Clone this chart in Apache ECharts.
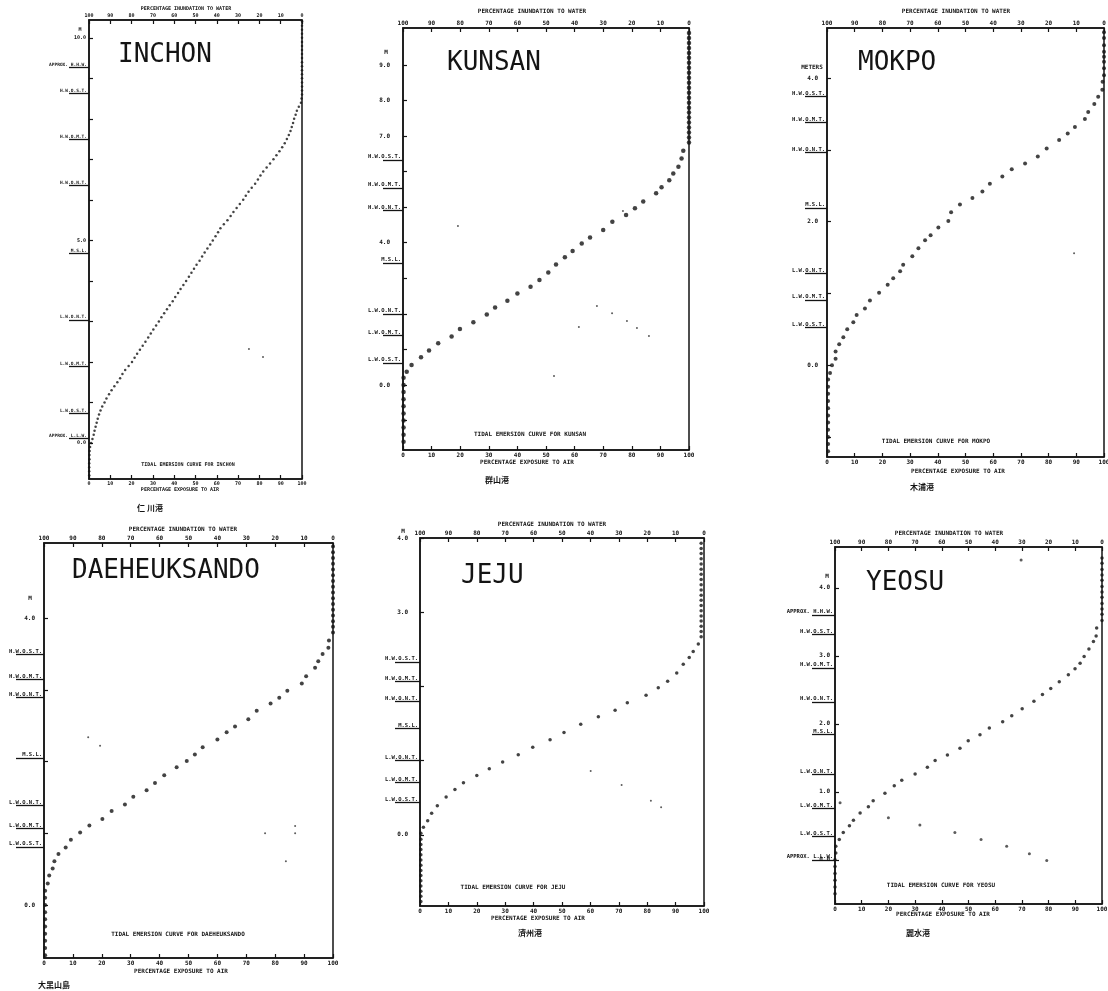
<!DOCTYPE html>
<html>
<head>
    <meta charset="utf-8">
    <title>Tidal emersion curves</title>
    <script src="https://cdn.jsdelivr.net/npm/echarts@6.0.0/dist/echarts.min.js"></script>
    <style>
        html, body { margin: 0; padding: 0; background: #fff; }
        #main { width: 1108px; height: 991px; }
    </style>
</head>
<body>
    <div id="main"></div>
    <script>
        // station names and captions
        const stations = ['INCHON', 'KUNSAN', 'MOKPO', 'DAEHEUKSANDO', 'JEJU', 'YEOSU'];
        const hanja = ['仁 川港', '群山港', '木浦港', '大黑山島', '濟州港', '麗水港'];
        const topTitle = 'PERCENTAGE INUNDATION TO WATER';
        const bottomTitle = 'PERCENTAGE EXPOSURE TO AIR';
        const unitNames = ['M', 'M', 'METERS', 'M', 'M', 'M'];

        // emersion curves: [percentage exposure to air, height in metres]
        const inchonCurve = [
            [100,10.4],[100,10.3],[100,10.2],[100,10.1],[100,10.0],[100,9.9],[100,9.8],[100,9.7],[100,9.6],[100,9.5],
            [100,9.4],[100,9.3],[100,9.2],[100,9.1],[100,9.0],[100,8.9],[100,8.8],[100,8.7],[100,8.6],[99.8,8.5],
            [99.5,8.4],[98.5,8.3],[97.6,8.2],[97.0,8.1],[96.3,8.0],[95.8,7.9],[95.2,7.8],[94.6,7.7],[93.8,7.6],[92.9,7.5],
            [91.9,7.4],[90.7,7.3],[89.4,7.2],[88.0,7.1],[86.6,7.0],[85.0,6.9],[83.4,6.8],[81.8,6.7],[80.5,6.6],[79.3,6.5],
            [78.0,6.4],[76.4,6.3],[74.9,6.2],[73.6,6.1],[72.4,6.0],[70.8,5.9],[69.3,5.8],[67.8,5.7],[66.5,5.6],[65.0,5.5],
            [63.3,5.4],[61.7,5.3],[60.6,5.2],[59.4,5.1],[58.1,5.0],[56.9,4.9],[55.6,4.8],[54.3,4.7],[53.1,4.6],[51.9,4.5],
            [50.5,4.4],[49.3,4.3],[48.1,4.2],[46.9,4.1],[45.6,4.0],[44.3,3.9],[43.0,3.8],[41.8,3.7],[40.5,3.6],[39.3,3.5],
            [37.9,3.4],[36.6,3.3],[35.3,3.2],[34.0,3.1],[32.8,3.0],[31.5,2.9],[30.2,2.8],[29.0,2.7],[27.8,2.6],[26.5,2.5],
            [25.2,2.4],[23.9,2.3],[22.6,2.2],[21.4,2.1],[20.2,2.0],[18.6,1.9],[17.0,1.8],[15.7,1.7],[14.6,1.6],[13.3,1.5],
            [11.9,1.4],[10.6,1.3],[9.4,1.2],[8.2,1.1],[7.3,1.0],[6.2,0.9],[5.4,0.8],[4.7,0.7],[4.1,0.6],[3.6,0.5],
            [3.1,0.4],[2.6,0.3],[2.2,0.2],[1.6,0.1],[1.0,0.0],[0.5,-0.1],[0.3,-0.2],[0.2,-0.3],[0.2,-0.4],[0.1,-0.5],
            [0.1,-0.6],[0.1,-0.7],[0.1,-0.8]
        ];
        const kunsanCurve = [
            [100,9.9],[100,9.76],[100,9.62],[100,9.48],[100,9.34],[100,9.2],[100,9.06],[100,8.92],[100,8.78],[100,8.64],
            [100,8.5],[100,8.36],[100,8.22],[100,8.08],[100,7.94],[100,7.8],[100,7.66],[100,7.52],[100,7.38],[100,7.24],
            [100,7.1],[100,6.96],[100,6.82],
            [98.0,6.59],[97.4,6.37],[96.3,6.14],[94.5,5.95],[93.1,5.76],[90.4,5.56],[88.5,5.39],[84.0,5.16],[81.1,4.97],
            [78.0,4.78],[73.2,4.59],[70.0,4.36],[65.4,4.15],[62.5,3.98],[59.3,3.77],[56.6,3.59],[53.5,3.39],[50.8,3.16],
            [47.7,2.95],[44.6,2.76],[40.0,2.57],[36.5,2.37],[32.2,2.18],[29.3,1.98],[24.6,1.76],[19.9,1.57],[17.0,1.36],
            [12.3,1.17],[9.1,0.97],[6.3,0.78],[3.0,0.56],[1.3,0.37],
            [0.2,0.2],[0.2,0.0],[0.2,-0.2],[0.2,-0.4],[0.2,-0.6],[0.2,-0.8],[0.2,-1.0],[0.2,-1.2],[0.2,-1.4],[0.2,-1.6]
        ];
        const mokpoCurve = [
            [100,4.64],[100,4.56],[100,4.46],[100,4.37],[100,4.30],[100,4.23],[100,4.14],[100,4.04],
            [99.5,3.95],[99.4,3.84],[97.9,3.74],[96.5,3.64],[94.3,3.53],[93.1,3.43],[89.5,3.32],[86.9,3.23],[83.8,3.14],
            [79.3,3.02],[76.1,2.91],[71.5,2.81],[66.7,2.73],[63.3,2.63],[58.8,2.53],[56.1,2.42],[52.5,2.33],[48.0,2.24],
            [44.8,2.13],[43.8,2.01],[40.2,1.92],[37.4,1.81],[35.4,1.74],[33.0,1.63],[30.8,1.52],[27.5,1.40],[26.4,1.31],
            [23.9,1.21],[21.9,1.12],[18.8,1.01],[15.5,0.90],[13.7,0.79],[10.7,0.70],[9.5,0.60],[7.3,0.50],[5.9,0.39],
            [4.4,0.29],[3.1,0.19],[3.1,0.09],[1.8,0.0],[1.1,-0.11],
            [0.4,-0.2],[0.4,-0.3],[0.4,-0.4],[0.4,-0.5],[0.4,-0.6],[0.4,-0.7],[0.4,-0.8],[0.4,-0.9],[0.4,-1.0],[0.4,-1.1],[0.4,-1.2]
        ];
        const daeheuksandoCurve = [
            [100,5.0],[100,4.92],[100,4.84],[100,4.76],[100,4.68],[100,4.6],[100,4.52],[100,4.44],[100,4.36],[100,4.28],
            [100,4.2],[100,4.12],[100,4.04],[100,3.96],[100,3.88],[100,3.8],
            [98.6,3.69],[98.4,3.59],[96.4,3.50],[94.9,3.40],[93.8,3.31],[90.7,3.19],[89.2,3.09],[84.2,2.99],[81.4,2.89],
            [78.4,2.81],[73.6,2.71],[70.7,2.59],[66.1,2.49],[63.2,2.41],[60.0,2.31],[54.9,2.20],[52.2,2.10],[49.4,2.01],
            [45.9,1.92],[41.6,1.81],[38.4,1.70],[35.5,1.60],[30.9,1.51],[28.0,1.40],[23.4,1.31],[20.2,1.20],[15.7,1.11],
            [12.5,1.01],[9.3,0.91],[7.5,0.80],[5.0,0.71],[3.6,0.61],[3.0,0.51],[1.8,0.41],[1.3,0.30],
            [0.4,0.2],[0.4,0.1],[0.4,0.0],[0.4,-0.1],[0.4,-0.2],[0.4,-0.3],[0.4,-0.4],[0.4,-0.5],[0.4,-0.6],[0.4,-0.7]
        ];
        const jejuCurve = [
            [99,3.93],[99,3.86],[99,3.79],[99,3.72],[99,3.65],[99,3.58],[99,3.51],[99,3.44],[99,3.37],[99,3.30],
            [99,3.23],[99,3.16],[99,3.09],[99,3.02],[99,2.95],[99,2.88],[99,2.81],[99,2.74],[99,2.67],
            [98.0,2.57],[96.2,2.47],[94.8,2.39],[92.7,2.30],[90.4,2.18],[87.2,2.07],[83.9,1.98],[79.6,1.88],[73.0,1.78],
            [68.7,1.68],[62.8,1.59],[56.6,1.49],[50.7,1.38],[45.8,1.28],[39.7,1.18],[34.6,1.08],[29.1,0.98],[24.4,0.89],
            [20.0,0.80],[15.3,0.70],[12.3,0.61],[9.2,0.51],[6.1,0.39],[4.1,0.29],[2.7,0.19],[1.2,0.10],
            [0.3,0.02],[0.3,-0.06],[0.3,-0.13],[0.3,-0.2],[0.3,-0.27],[0.3,-0.34],[0.3,-0.41],[0.3,-0.48],[0.3,-0.55],
            [0.3,-0.62],[0.3,-0.69],[0.3,-0.76],[0.3,-0.83],[0.3,-0.9]
        ];
        const yeosuCurve = [
            [100,4.44],[100,4.36],[100,4.27],[100,4.19],[100,4.11],[100,4.02],[100,3.94],[100,3.86],[100,3.77],[100,3.69],
            [100,3.61],[100,3.52],
            [98.0,3.41],[97.8,3.29],[96.8,3.21],[95.1,3.10],[93.3,2.99],[91.8,2.89],[89.9,2.81],[87.4,2.72],[84.0,2.62],
            [80.8,2.52],[77.7,2.43],[74.5,2.33],[70.1,2.22],[66.2,2.12],[62.8,2.03],[57.8,1.94],[54.3,1.84],[49.9,1.75],
            [46.8,1.64],[42.1,1.54],[37.5,1.46],[34.6,1.36],[30.0,1.26],[25.0,1.17],[22.2,1.09],[18.7,0.98],[14.3,0.87],
            [12.5,0.78],[9.4,0.69],[6.9,0.58],[5.4,0.50],[3.1,0.40],[1.6,0.30],[0.3,0.20],[0.3,0.10],
            [0,0.0],[0,-0.1],[0,-0.2],[0,-0.3],[0,-0.4],[0,-0.5]
        ];

        // faint specks that show through the scan
        const inchonSpecks = [[75.1,2.32],[81.7,2.12]];
        const kunsanSpecks = [[19.2,4.47],[76.9,4.89],[61.5,1.63],[67.8,2.22],[73.1,2.02],[78.3,1.80],[81.8,1.60],[86.0,1.38],[52.8,0.25]];
        const mokpoSpecks = [[89.2,1.56]];
        const daeheuksandoSpecks = [[15.3,2.34],[19.4,2.22],[76.5,1.0],[86.9,1.1],[86.9,1.0],[83.7,0.61]];
        const jejuSpecks = [[60.1,0.86],[71.0,0.67],[81.3,0.46],[84.9,0.37]];
        const yeosuSpecks = [[20.0,0.62],[31.8,0.51],[44.9,0.40],[54.7,0.30],[64.3,0.20],[72.8,0.09],[79.3,-0.01],[69.7,4.41],[1.9,0.84]];

        // tidal datum names and levels (m)
        const datumNames = ['H.W.O.S.T.', 'H.W.O.M.T.', 'H.W.O.N.T.', 'M.S.L.', 'L.W.O.N.T.', 'L.W.O.M.T.', 'L.W.O.S.T.'];
        const datumNamesApprox = ['APPROX. H.H.W.', 'H.W.O.S.T.', 'H.W.O.M.T.', 'H.W.O.N.T.', 'M.S.L.', 'L.W.O.N.T.', 'L.W.O.M.T.', 'L.W.O.S.T.', 'APPROX. L.L.W.'];
        const inchonDatums = [9.28, 8.62, 7.5, 6.37, 4.69, 3.04, 1.9, 0.74, 0.12];
        const kunsanDatums = [6.33, 5.54, 4.9, 3.43, 2.0, 1.4, 0.62];
        const mokpoDatums = [3.75, 3.38, 2.97, 2.19, 1.28, 0.91, 0.53];
        const daeheuksandoDatums = [3.5, 3.15, 2.9, 2.05, 1.39, 1.07, 0.81];
        const jejuDatums = [2.33, 2.07, 1.8, 1.43, 1.0, 0.71, 0.44];
        const yeosuDatums = [3.6, 3.31, 2.82, 2.32, 1.84, 1.26, 0.76, 0.34, 0.0];

        // height axis ticks and labelled ticks
        const inchonTicks = [0, 1, 2, 3, 4, 5, 6, 7, 8, 9, 10];
        const inchonLabels = [0, 5, 10];
        const kunsanTicks = [-1, 0, 1, 2, 3, 4, 5, 6, 7, 8, 9];
        const kunsanLabels = [0, 4, 7, 8, 9];
        const mokpoTicks = [-1, 0, 1, 2, 3, 4];
        const mokpoLabels = [0, 2, 4];
        const daeheuksandoTicks = [0, 1, 2, 3, 4];
        const daeheuksandoLabels = [0, 4];
        const jejuTicks = [0, 1, 2, 3, 4];
        const jejuLabels = [0, 3, 4];
        const yeosuTicks = [0, 1, 2, 3, 4];
        const yeosuLabels = [0, 1, 2, 3, 4];

        const panels = [
            { curve: inchonCurve, specks: inchonSpecks, names: datumNamesApprox, levels: inchonDatums, ticks: inchonTicks, labels: inchonLabels },
            { curve: kunsanCurve, specks: kunsanSpecks, names: datumNames, levels: kunsanDatums, ticks: kunsanTicks, labels: kunsanLabels },
            { curve: mokpoCurve, specks: mokpoSpecks, names: datumNames, levels: mokpoDatums, ticks: mokpoTicks, labels: mokpoLabels },
            { curve: daeheuksandoCurve, specks: daeheuksandoSpecks, names: datumNames, levels: daeheuksandoDatums, ticks: daeheuksandoTicks, labels: daeheuksandoLabels },
            { curve: jejuCurve, specks: jejuSpecks, names: datumNames, levels: jejuDatums, ticks: jejuTicks, labels: jejuLabels },
            { curve: yeosuCurve, specks: yeosuSpecks, names: datumNamesApprox, levels: yeosuDatums, ticks: yeosuTicks, labels: yeosuLabels }
        ];

        // panel placement on the page (pixels), kept apart from the data
        const layout = [
            { left: 89, top: 20, width: 213, height: 459, yMin: -0.89, yMax: 10.44, dot: 2.5, fs: 5, yGap: 3, datumLen: 20,
              namePos: [118, 55], topPos: [186, 9], bottomPos: [180, 490], curvePos: [188, 465], hanjaPos: [150, 508], unitPos: [80, 30] },
            { left: 403, top: 28, width: 286, height: 422, yMin: -1.83, yMax: 10.04, dot: 4.5, fs: 6, yGap: 13, datumLen: 20,
              namePos: [447, 63], topPos: [532, 11], bottomPos: [527, 462], curvePos: [530, 434], hanjaPos: [497, 480], unitPos: [386, 52] },
            { left: 827, top: 28, width: 277, height: 429, yMin: -1.28, yMax: 4.70, dot: 4, fs: 6, yGap: 9, datumLen: 22,
              namePos: [858, 63], topPos: [956, 11], bottomPos: [958, 471], curvePos: [936, 441], hanjaPos: [922, 487], unitPos: [812, 67] },
            { left: 44, top: 543, width: 289, height: 415, yMin: -0.74, yMax: 5.05, dot: 4, fs: 6, yGap: 9, datumLen: 28,
              namePos: [72, 571], topPos: [183, 529], bottomPos: [181, 971], curvePos: [178, 934], hanjaPos: [54, 985], unitPos: [30, 598] },
            { left: 420, top: 538, width: 284, height: 368, yMin: -0.96, yMax: 4.0, dot: 3.5, fs: 6, yGap: 12, datumLen: 25,
              namePos: [461, 576], topPos: [552, 524], bottomPos: [538, 918], curvePos: [513, 887], hanjaPos: [530, 933], unitPos: [403, 531] },
            { left: 835, top: 547, width: 267, height: 357, yMin: -0.65, yMax: 4.6, dot: 3.5, fs: 6, yGap: 5, datumLen: 23,
              namePos: [866, 583], topPos: [949, 533], bottomPos: [943, 914], curvePos: [941, 885], hanjaPos: [918, 933], unitPos: [827, 576] }
        ];

        const ink = '#141414';
        const mono = '"DejaVu Sans Mono", monospace';
        const cjk = '"Noto Sans CJK KR", "Noto Sans CJK TC", sans-serif';

        const grid = [], xAxis = [], yAxis = [], series = [], graphic = [];

        panels.forEach((p, i) => {
            const L = layout[i];
            const smallText = { color: ink, fontSize: L.fs, fontFamily: mono, fontWeight: 'bold' };

            grid.push({
                left: L.left, top: L.top, width: L.width, height: L.height,
                containLabel: false, outerBoundsMode: 'none',
                show: true, borderColor: ink, borderWidth: 1.5, backgroundColor: 'transparent'
            });

            // bottom: exposure to air, top: inundation to water
            xAxis.push({
                gridIndex: i, type: 'value', position: 'bottom', min: 0, max: 100, interval: 10,
                axisLine: { onZero: false, lineStyle: { color: ink, width: 1.5 } },
                axisTick: { inside: true, length: 4, lineStyle: { color: ink, width: 1.2 } },
                axisLabel: Object.assign({ margin: 2 }, smallText),
                splitLine: { show: false }
            });
            xAxis.push({
                gridIndex: i, type: 'value', position: 'top', inverse: true, min: 0, max: 100, interval: 10,
                axisLine: { onZero: false, lineStyle: { color: ink, width: 1.5 } },
                axisTick: { inside: true, length: 4, lineStyle: { color: ink, width: 1.2 } },
                axisLabel: Object.assign({ margin: 2 }, smallText),
                splitLine: { show: false }
            });

            // height in metres
            yAxis.push({
                gridIndex: i, type: 'value', position: 'left', min: L.yMin, max: L.yMax,
                axisLine: { show: true, onZero: false, lineStyle: { color: ink, width: 1.5 } },
                axisTick: { show: true, inside: true, length: 4, customValues: p.ticks, lineStyle: { color: ink, width: 1.2 } },
                axisLabel: Object.assign({ customValues: p.labels, margin: L.yGap, formatter: v => Number(v).toFixed(1) }, smallText),
                splitLine: { show: false }
            });
            // tidal datums drawn as underlined labels left of the axis
            yAxis.push({
                gridIndex: i, type: 'value', position: 'left', min: L.yMin, max: L.yMax,
                axisLine: { show: false, onZero: false },
                axisTick: { show: true, inside: false, length: L.datumLen, customValues: p.levels, lineStyle: { color: ink, width: 1.3 } },
                axisLabel: Object.assign({
                    customValues: p.levels, margin: 2, verticalAlign: 'bottom', align: 'right',
                    formatter: v => {
                        const k = p.levels.findIndex(l => Math.abs(l - v) < 1e-6);
                        return k >= 0 ? p.names[k] : '';
                    }
                }, smallText, { fontSize: L.fs - 0.5 }),
                splitLine: { show: false }
            });

            series.push({
                name: stations[i], type: 'scatter', xAxisIndex: 2 * i, yAxisIndex: 2 * i,
                data: p.curve, symbol: 'circle', symbolSize: L.dot, clip: false, silent: true,
                itemStyle: { color: ink }
            });
            series.push({
                name: stations[i] + ' specks', type: 'scatter', xAxisIndex: 2 * i, yAxisIndex: 2 * i,
                data: p.specks, symbol: 'circle', symbolSize: i === 5 ? 3 : 2, clip: false, silent: true,
                itemStyle: { color: '#333' }
            });

            // station name and captions
            const txt = (pos, text, font, align) => ({
                type: 'text', x: pos[0], y: pos[1], silent: true, z: 10,
                style: Object.assign({ text: text, fill: ink, textAlign: align || 'center', textVerticalAlign: 'middle' }, font)
            });
            graphic.push(txt(L.namePos, stations[i], { fontSize: 26, fontFamily: mono }, 'left'));
            graphic.push(txt(L.topPos, topTitle, { fontSize: L.fs, fontFamily: mono, fontWeight: 'bold' }));
            graphic.push(txt(L.bottomPos, bottomTitle, { fontSize: L.fs, fontFamily: mono, fontWeight: 'bold' }));
            graphic.push(txt(L.curvePos, 'TIDAL EMERSION CURVE FOR ' + stations[i], { fontSize: L.fs, fontFamily: mono, fontWeight: 'bold' }));
            graphic.push(txt(L.hanjaPos, hanja[i], { fontSize: 8, fontFamily: cjk, fontWeight: 'bold' }));
            graphic.push(txt(L.unitPos, unitNames[i], { fontSize: L.fs, fontFamily: mono, fontWeight: 'bold' }));
        });

        const chart = echarts.init(document.getElementById('main'), null, { renderer: 'canvas' });
        chart.setOption({
            backgroundColor: '#fff',
            animation: false,
            grid: grid,
            xAxis: xAxis,
            yAxis: yAxis,
            series: series,
            graphic: graphic
        });
    </script>
</body>
</html>
